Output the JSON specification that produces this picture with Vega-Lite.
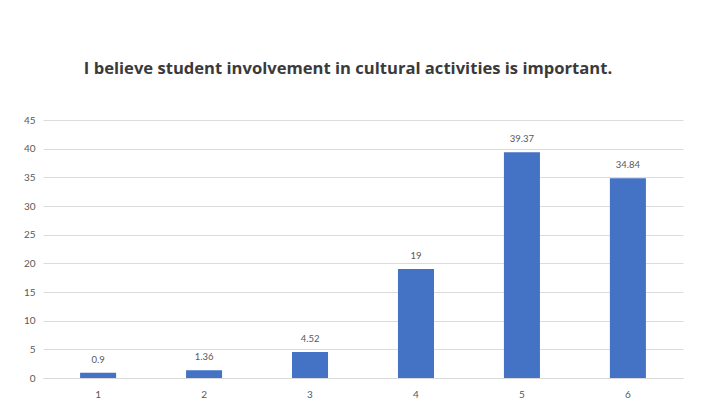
{
  "$schema": "https://vega.github.io/schema/vega-lite/v6.json",
  "autosize": {"type": "none"},
  "width": 640,
  "height": 258,
  "padding": {"left": 43, "top": 120, "right": 21, "bottom": 34},
  "background": "white",
  "title": {
    "text": "I believe student involvement in cultural activities is important.",
    "font": "Open Sans",
    "fontSize": 16.6,
    "fontWeight": "bold",
    "color": "#3a3a3a",
    "anchor": "middle",
    "dx": -15,
    "offset": 37
  },
  "data": {
    "values": [
      {"cat": "1", "value": 0.9, "label": "0.9"},
      {"cat": "2", "value": 1.36, "label": "1.36"},
      {"cat": "3", "value": 4.52, "label": "4.52"},
      {"cat": "4", "value": 19, "label": "19"},
      {"cat": "5", "value": 39.37, "label": "39.37"},
      {"cat": "6", "value": 34.84, "label": "34.84"}
    ]
  },
  "config": {
    "view": {"stroke": null},
    "font": "Lato"
  },
  "encoding": {
    "x": {
      "field": "cat",
      "type": "ordinal",
      "sort": null,
      "scale": {"paddingInner": 0.66, "paddingOuter": 0.35},
      "axis": {
        "title": null,
        "labelAngle": 0,
        "labelFont": "Lato",
        "labelFontSize": 10,
        "labelColor": "#595959",
        "labelPadding": 11,
        "ticks": false,
        "domain": true,
        "domainColor": "#d9d9d9",
        "grid": false
      }
    },
    "y": {
      "field": "value",
      "type": "quantitative",
      "scale": {"domain": [0, 45], "nice": false},
      "axis": {
        "title": null,
        "values": [0, 5, 10, 15, 20, 25, 30, 35, 40, 45],
        "labelFont": "Lato",
        "labelFontSize": 10,
        "labelColor": "#595959",
        "labelPadding": 8,
        "ticks": false,
        "domain": false,
        "grid": true,
        "gridColor": "#dcdcdc",
        "gridWidth": 1
      }
    }
  },
  "layer": [
    {
      "mark": {"type": "bar", "color": "#4472C4"}
    },
    {
      "mark": {
        "type": "text",
        "baseline": "bottom",
        "dy": -8,
        "fontSize": 9.5,
        "font": "Lato",
        "color": "#595959"
      },
      "encoding": {"text": {"field": "label", "type": "nominal"}}
    }
  ]
}
